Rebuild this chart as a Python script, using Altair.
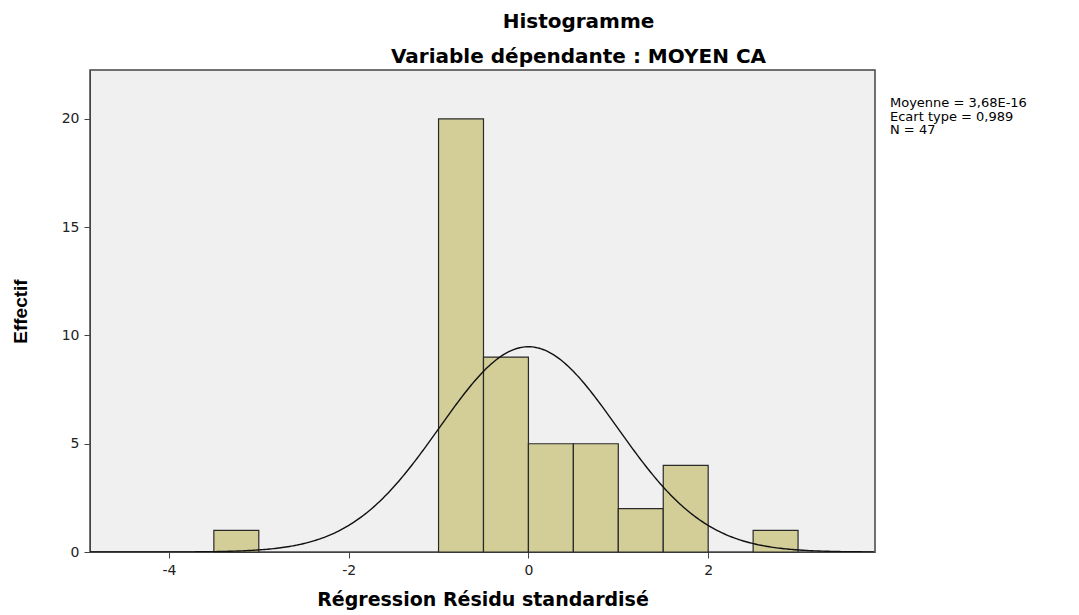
import altair as alt
import pandas as pd

# Histogram bins (standardized residuals), width 0.5
bin_start = [-3.5, -1.0, -0.5, 0.0, 0.5, 1.0, 1.5, 2.5]
bin_end = [-3.0, -0.5, 0.0, 0.5, 1.0, 1.5, 2.0, 3.0]
counts = [1, 20, 9, 5, 5, 2, 4, 1]

mean_val = 3.68e-16
sd_val = 0.989
n_val = 47
bin_width = 0.5

x_ticks = [-4, -2, 0, 2]
y_ticks = [0, 5, 10, 15, 20]
stats_lines = ["Moyenne = 3,68E-16", "Ecart type = 0,989", "N = 47"]

x_domain = [-4.878, 3.856]
y_domain = [0, 22.26]

bars_df = pd.DataFrame({"start": bin_start, "end": bin_end, "count": counts})

FONT = "DejaVu Sans"
FONT_N = "Liberation Sans"

xscale = alt.Scale(domain=x_domain, nice=False, zero=False)
yscale = alt.Scale(domain=y_domain, nice=False)

xaxis = alt.Axis(values=x_ticks, grid=False, title="Régression Résidu standardisé",
                 labelExpr="'' + datum.value",
                 titleFont=FONT, titleFontSize=19, titleFontWeight="bold", titleColor="#000",
                 titlePadding=13, labelFont=FONT, labelFontSize=14, labelColor="#222",
                 domainColor="#444", tickColor="#444", tickSize=6, labelPadding=5)
yaxis = alt.Axis(values=y_ticks, grid=False, title="Effectif",
                 titleFont=FONT_N, titleFontSize=19, titleFontWeight="bold", titleColor="#000",
                 titlePadding=31, labelFont=FONT, labelFontSize=14, labelColor="#222",
                 domainColor="#444", tickColor="#444", tickSize=6, labelPadding=5)

bars = alt.Chart(bars_df).mark_bar(
    color="#d3ce98", stroke="#2a2a2a", strokeWidth=1.2
).encode(
    x=alt.X("start:Q", scale=xscale, axis=xaxis),
    x2="end:Q",
    y=alt.Y("count:Q", scale=yscale, axis=yaxis),
    y2=alt.datum(0),
)

curve = alt.Chart(alt.sequence(-4.878, 3.86, 0.02, as_="x")).transform_calculate(
    y=f"{n_val}*{bin_width}/({sd_val}*sqrt(2*PI))*exp(-0.5*pow((datum.x-{mean_val})/{sd_val},2))"
).mark_line(color="#111", strokeWidth=1.4, clip=True).encode(
    x=alt.X("x:Q", scale=xscale),
    y=alt.Y("y:Q", scale=yscale),
)

stats_df = pd.DataFrame({"t": ["\n".join(stats_lines)]})
stats = alt.Chart(stats_df).mark_text(
    align="left", baseline="top", font=FONT, fontSize=13, color="#000",
    lineBreak="\n", lineHeight=13.5
).encode(
    x=alt.value(800),
    y=alt.value(27),
    text="t:N",
)

chart = alt.layer(bars, curve, stats).properties(
    width=785, height=482,
    autosize="none",
    padding={"left": 82, "top": 62, "right": 196, "bottom": 62},
    title=alt.TitleParams(
        text=["Histogramme", "Variable dépendante : MOYEN CA"],
        font=FONT, fontSize=20, fontWeight="bold", color="#000",
        anchor="middle", dx=96, offset=3, lineHeight=35,
    ),
).configure_view(
    fill="#f0f0f0", stroke="#444", strokeWidth=1.5
)

chart.save("out.html", embed_options={"renderer": "svg", "actions": False})
